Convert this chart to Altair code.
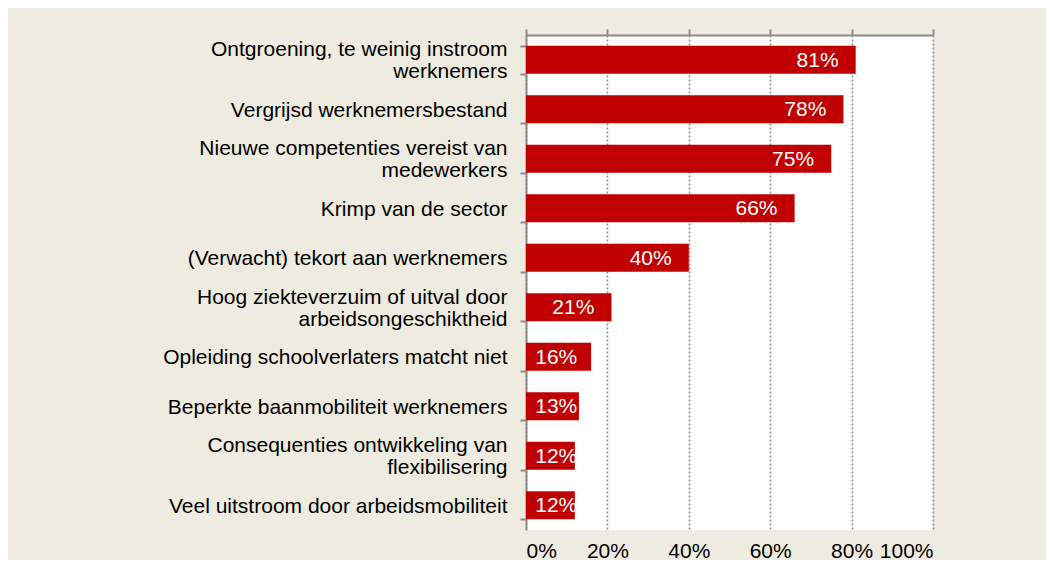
import altair as alt
import pandas as pd

BLANK = "\u2800"

categories = [
    "Ontgroening, te weinig instroom\nwerknemers",
    "Vergrijsd werknemersbestand",
    "Nieuwe competenties vereist van\nmedewerkers",
    "Krimp van de sector",
    "(Verwacht) tekort aan werknemers",
    "Hoog ziekteverzuim of uitval door\narbeidsongeschiktheid",
    "Opleiding schoolverlaters matcht niet",
    "Beperkte baanmobiliteit werknemers",
    "Consequenties ontwikkeling van\nflexibilisering",
    "Veel uitstroom door arbeidsmobiliteit",
]
values = [81, 78, 75, 66, 40, 21, 16, 13, 12, 12]
x_ticks = [0, 20, 40, 60, 80, 100]

df = pd.DataFrame({"cat": categories, "value": values})

FONT = "Arial, Liberation Sans"
BAR = "#C00000"
GRAY = "#8C8C8C"

x_scale = alt.Scale(domain=[0, 100], nice=False)
y_enc = alt.Y(
    "cat:N",
    sort=None,
    scale=alt.Scale(paddingInner=0.434, paddingOuter=0.217),
    axis=alt.Axis(
        title=None,
        labelExpr=(
            "indexof(datum.label, '\\n') >= 0 "
            "? split(replace(datum.label, '\\n', '\\n" + BLANK + "\\n'), '\\n') "
            ": ['" + BLANK + "', datum.label]"
        ),
        labelFont=FONT,
        labelFontSize=21,
        labelColor="#000000",
        labelLineHeight=11,
        labelBaseline="bottom",
        labelPadding=13,
        labelLimit=600,
        domain=True,
        domainColor=GRAY,
        domainWidth=2,
        ticks=True,
        tickBand="extent",
        tickColor=GRAY,
        tickWidth=2,
        tickSize=6,
        grid=False,
    ),
)

bars = alt.Chart(df).mark_bar(color=BAR).encode(
    x=alt.X(
        "value:Q",
        scale=x_scale,
        axis=alt.Axis(
            orient="top",
            title=None,
            values=x_ticks,
            labels=False,
            domain=True,
            domainColor=GRAY,
            domainWidth=2,
            ticks=True,
            tickColor=GRAY,
            tickWidth=2,
            tickSize=6,
            grid=True,
            gridColor="#8A8A8A",
            gridWidth=1.5,
            gridDash=[2, 2],
        ),
    ),
    y=y_enc,
)

labels = alt.Chart(df).transform_calculate(
    pos="max(datum.value - 4.2, 12.6)",
    txt="datum.value + '%'",
).mark_text(
    align="right", baseline="middle", color="white", font=FONT, fontSize=21, dy=1
).encode(
    x=alt.X(
        "pos:Q",
        scale=x_scale,
        axis=alt.Axis(
            orient="bottom",
            title=None,
            values=x_ticks,
            labelExpr="datum.value + '%'",
            labelFont=FONT,
            labelFontSize=21,
            labelColor="#000000",
            labelPadding=10,
            domain=False,
            ticks=False,
            grid=False,
        ),
    ),
    y=y_enc,
    text="txt:N",
)

chart = (
    alt.layer(bars, labels)
    .resolve_axis(x="independent")
    .properties(
        width=407,
        height=495,
        background="#EEECE1",
        padding={"left": 518, "top": 27, "right": 113, "bottom": 30},
        autosize=alt.AutoSizeParams(type="none"),
    )
    .configure_view(fill="white", stroke=None)
)

chart.save("out.html", embed_options={"renderer": "svg", "actions": False})
